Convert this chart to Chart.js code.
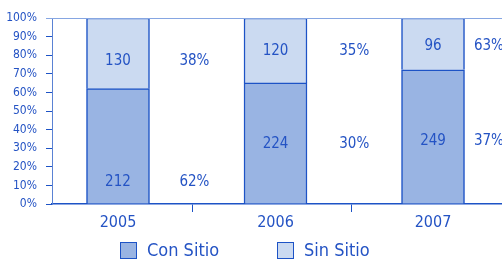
<!DOCTYPE html>
<html>
<head>
<meta charset="utf-8">
<script src="https://cdn.jsdelivr.net/npm/chart.js@4.4.0/dist/chart.umd.min.js"></script>
<style>
  body { margin: 0; background: #fff; }
  canvas { display: block; }
</style>
</head>
<body>
<canvas id="chart" width="502" height="259"></canvas>
<script>
const years = ['2005', '2006', '2007'];
const conSitio = [212, 224, 249];
const sinSitio = [130, 120, 96];
const pctSin = ['38%', '35%', '63%'];
const pctCon = ['62%', '30%', '37%'];
const yTicks = [0, 10, 20, 30, 40, 50, 60, 70, 80, 90, 100];

// slots on the x axis: bars on even slots, the % column between them
const yearSlot = [0, 2, 4];
const pctSlot = [0.97, 3.0, 4.71];
const separatorSlot = [0.95, 2.97];
// height (in % of axis) where the printed numbers sit
const conLabelAt = [12, 32, 34];
const sinLabelAt = [77, 82, 85];

const FONT = '"DejaVu Sans Condensed", "Liberation Sans Narrow", sans-serif';
const TEXT = '#2453c4';
const LINE = '#1d53c6';

const totals = conSitio.map((v, i) => v + sinSitio[i]);
const conShare = conSitio.map((v, i) => v / totals[i] * 100);
const sinShare = sinSitio.map((v, i) => v / totals[i] * 100);

const labelPlugin = {
    id: 'labels',
    afterDatasetsDraw(chart) {
        const { ctx, chartArea, scales: { x, y } } = chart;
        ctx.save();
        // light frame line along the top
        ctx.strokeStyle = '#86a6e2';
        ctx.lineWidth = 1;
        ctx.beginPath();
        ctx.moveTo(chartArea.left - 6, chartArea.top + 0.5);
        ctx.lineTo(chartArea.right, chartArea.top + 0.5);
        ctx.stroke();

        ctx.fillStyle = TEXT;
        ctx.font = '15px ' + FONT;
        ctx.textAlign = 'center';
        ctx.textBaseline = 'middle';
        years.forEach((yr, i) => {
            const bx = x.getPixelForValue(yearSlot[i]);
            const px = x.getPixelForValue(pctSlot[i]);
            const yc = y.getPixelForValue(conLabelAt[i]);
            const ys = y.getPixelForValue(sinLabelAt[i]);
            ctx.fillText(String(conSitio[i]), bx, yc);
            ctx.fillText(String(sinSitio[i]), bx, ys);
            ctx.fillText(pctCon[i], px, yc);
            ctx.fillText(pctSin[i], px, ys);
        });
        ctx.restore();
    },
    afterDraw(chart) {
        // legend under the axis
        const { ctx } = chart;
        ctx.save();
        ctx.font = '18px ' + FONT;
        ctx.textBaseline = 'middle';
        ctx.textAlign = 'left';
        let lx = 120;
        chart.data.datasets.forEach(ds => {
            ctx.fillStyle = ds.backgroundColor;
            ctx.fillRect(lx, 242, 17, 17);
            ctx.strokeStyle = LINE;
            ctx.lineWidth = 1;
            ctx.strokeRect(lx + 0.5, 242.5, 16, 16);
            ctx.fillStyle = TEXT;
            ctx.fillText(ds.label, lx + 27, 251);
            lx = 277;
        });
        ctx.restore();
    }
};

new Chart(document.getElementById('chart'), {
    type: 'bar',
    data: {
        datasets: [
            {
                label: 'Con Sitio',
                data: yearSlot.map((s, i) => ({ x: s, y: conShare[i] })),
                backgroundColor: '#99b4e3',
                borderColor: LINE,
                borderWidth: 1.5,
                barThickness: 63
            },
            {
                label: 'Sin Sitio',
                data: yearSlot.map((s, i) => ({ x: s, y: sinShare[i] })),
                backgroundColor: '#cbdaf1',
                borderColor: LINE,
                borderWidth: 1.5,
                barThickness: 63
            }
        ]
    },
    options: {
        responsive: false,
        animation: false,
        devicePixelRatio: 1,
        layout: { padding: { top: 18, left: 0, right: 0, bottom: 0 } },
        plugins: {
            legend: { display: false },
            tooltip: { enabled: false }
        },
        scales: {
            x: {
                type: 'linear',
                stacked: true,
                offset: false,
                min: -0.838,
                max: 4.876,
                afterBuildTicks: scale => {
                    scale.ticks = [0, separatorSlot[0], 2, separatorSlot[1], 4].map(v => ({ value: v }));
                },
                afterFit: scale => { scale.height = 55; },
                ticks: {
                    autoSkip: false,
                    maxRotation: 0,
                    padding: 1,
                    color: TEXT,
                    font: { family: FONT, size: 16 },
                    callback: v => {
                        const i = yearSlot.indexOf(v);
                        return i >= 0 ? years[i] : '';
                    }
                },
                grid: {
                    offset: false,
                    drawOnChartArea: false,
                    tickLength: 8,
                    color: c => separatorSlot.includes(c.tick && c.tick.value) ? LINE : 'rgba(0,0,0,0)'
                },
                border: { color: LINE, width: 1.5 }
            },
            y: {
                stacked: true,
                min: 0,
                max: 100,
                afterBuildTicks: scale => {
                    scale.ticks = yTicks.map(v => ({ value: v }));
                },
                afterFit: scale => { scale.width = 52; },
                ticks: {
                    autoSkip: false,
                    padding: 9,
                    color: TEXT,
                    font: { family: FONT, size: 12 },
                    callback: v => v + '%'
                },
                grid: {
                    drawOnChartArea: false,
                    tickLength: 6,
                    color: LINE
                },
                border: { color: '#5a82d4', width: 1 }
            }
        }
    },
    plugins: [labelPlugin]
});
</script>
</body>
</html>
